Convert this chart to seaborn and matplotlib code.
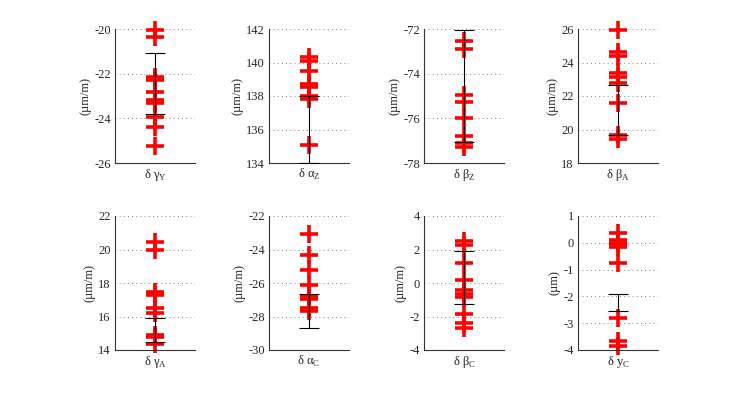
import numpy as np
import pandas as pd
import seaborn as sns
import matplotlib.pyplot as plt

# values
labels = ["δ γ$_\\mathrm{Y}$", "δ α$_\\mathrm{Z}$", "δ β$_\\mathrm{Z}$", "δ β$_\\mathrm{A}$",
          "δ γ$_\\mathrm{A}$", "δ α$_\\mathrm{C}$", "δ β$_\\mathrm{C}$", "δ y$_\\mathrm{C}$"]
units = ["(µm/m)"] * 7 + ["(µm)"]

gamma_y = [-20.05, -20.35, -22.15, -22.3, -22.8, -23.2, -23.3, -23.95, -24.4, -25.25]
alpha_z = [140.3, 140.1, 139.5, 138.7, 138.55, 138.0, 137.85, 135.05]
beta_z = [-72.55, -72.9, -74.95, -75.25, -76.0, -76.8, -77.1, -77.3]
beta_a = [25.95, 24.6, 24.4, 23.4, 23.15, 22.8, 21.6, 19.65, 19.45]
gamma_a = [20.45, 19.95, 17.45, 17.3, 16.5, 16.2, 14.9, 14.75, 14.35]
alpha_c = [-23.1, -24.35, -25.25, -26.1, -26.8, -26.95, -27.5, -27.7]
beta_c = [2.5, 2.25, 1.2, 0.15, -0.4, -0.65, -0.85, -1.85, -2.4, -2.7]
y_c = [0.35, 0.1, 0.0, -0.05, -0.15, -0.75, -2.8, -3.65, -3.85]
series = [gamma_y, alpha_z, beta_z, beta_a, gamma_a, alpha_c, beta_c, y_c]

# error bar caps (upper, lower)
err_hi = [-21.09, 138.0, -72.03, 22.66, 15.89, -26.68, 1.9, -1.92]
err_lo = [-23.8, 134.0, -77.07, 19.67, 14.46, -28.67, -1.26, -2.54]

ylims = [(-26, -20), (134, 142), (-78, -72), (18, 26),
         (14, 22), (-30, -22), (-4, 4), (-4, 1)]
ysteps = [2, 2, 2, 2, 2, 2, 2, 1]

sns.set_style("white")
plt.rcParams['font.family'] = ['Liberation Serif', 'DejaVu Serif']
plt.rcParams['mathtext.fontset'] = 'custom'
plt.rcParams['mathtext.rm'] = 'Liberation Serif'
plt.rcParams['axes.unicode_minus'] = False

fig = plt.figure(figsize=(7.49, 3.93), dpi=100)

lefts = [115, 269, 424, 578]
for i in range(8):
    row, col = divmod(i, 4)
    top = 29 if row == 0 else 216
    ax = fig.add_axes([lefts[col] / 749, (393 - top - 134) / 393, 80 / 749, 134 / 393])

    df = pd.DataFrame({"x": 1.0, "y": series[i]})
    mid = (err_hi[i] + err_lo[i]) / 2
    half = (err_hi[i] - err_lo[i]) / 2
    sns.scatterplot(data=df, x="x", y="y", ax=ax, marker="+", s=160,
                    color="red", linewidth=2.6, zorder=2, legend=False,
                    clip_on=False)
    ax.errorbar([1.0], [mid], yerr=[half], fmt="none", ecolor="black",
                elinewidth=0.8, capsize=7, capthick=0.8, zorder=3)

    lo, hi = ylims[i]
    ax.set_xlim(0, 2)
    ax.set_ylim(lo, hi)
    ax.set_yticks(np.arange(lo, hi + 0.01, ysteps[i]))
    ax.yaxis.set_major_formatter(plt.FuncFormatter(lambda v, p: f"{v:g}"))
    ax.set_xticks([1.0])
    ax.set_xticklabels([labels[i]])
    ax.set_xlabel("")
    ax.set_ylabel(units[i], fontsize=9, labelpad=2)
    ax.tick_params(axis="both", labelsize=9, length=0, pad=3)
    ax.grid(axis="y", linestyle=(0, (1, 4)), color="#555555", linewidth=0.6)
    for s in ["top", "right"]:
        ax.spines[s].set_visible(False)
    for s in ["left", "bottom"]:
        ax.spines[s].set_color("#333333")
        ax.spines[s].set_linewidth(0.8)

fig.savefig("out.png", dpi=100)
